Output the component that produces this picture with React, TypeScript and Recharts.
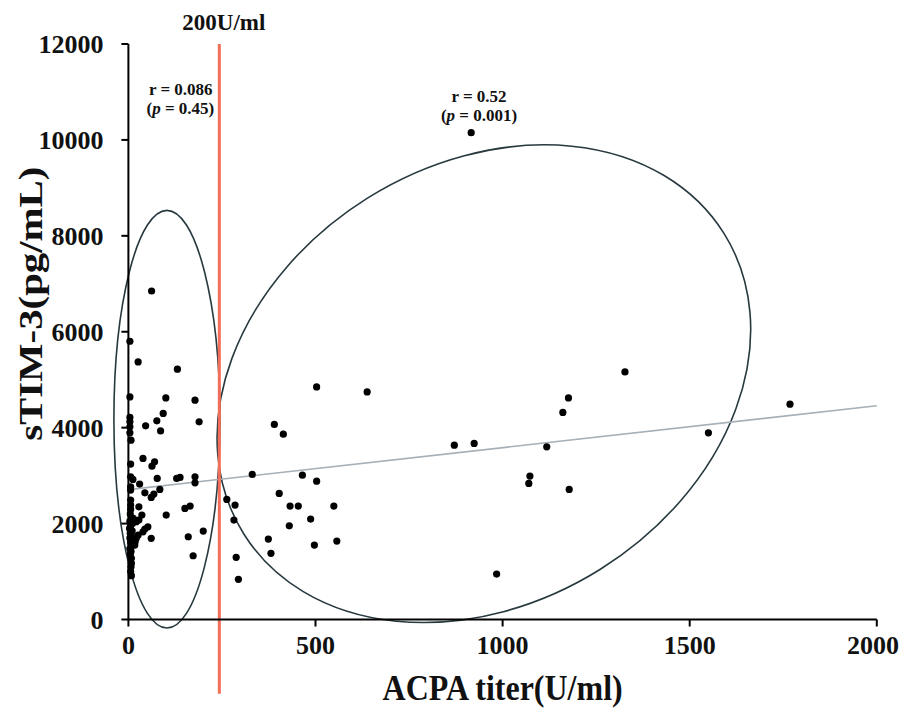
import React from 'react';
import { ScatterChart, Scatter, XAxis, YAxis, ReferenceLine, ReferenceDot } from 'recharts';

// ACPA titer (U/ml) of each patient
const acpaTiter = [
  4, 4, 4, 4, 4, 4, 7, 6, 6, 12, 6, 6, 6, 6, 6,
  5, 9, 4, 11, 6, 3, 10, 5, 8, 4, 12, 6, 9, 4, 7, 5, 8, 8, 7, 6, 8,
  26, 39, 70, 63, 77, 30, 44, 84, 68, 61, 28, 36, 28, 21, 101, 52, 44, 39, 26, 21, 18, 17, 61, 13,
  62, 131, 100, 178, 93, 76, 46, 86, 189, 129, 138, 178, 178, 151, 165, 200, 160, 173,
  263, 285, 282, 294, 288, 331, 390, 414, 403, 432, 454, 430, 374, 381, 465, 503, 503, 487, 497, 549, 557,
  638, 1176, 1161, 871, 924, 1118, 1073, 1070, 1178, 984, 1327, 1768, 1550, 916,
];
// sTIM-3 (pg/mL) of each patient
const sTim3 = [
  5802, 4642, 4213, 4121, 4017, 3892, 3740, 3240, 2975, 2921, 2767, 2698, 2490, 2385, 2296,
  2200, 2115, 2050, 2000, 1950, 1900, 1850, 1800, 1750, 1700, 1650, 1600, 1540, 1480, 1420, 1360, 1275, 1171, 1100, 1000, 913,
  5371, 3358, 3288, 3198, 2942, 2823, 2642, 2713, 2615, 2546, 2350, 2177, 2073, 2038, 2177, 1933, 1885, 1829, 1760, 1692, 1621, 1552, 1692, 2108,
  6850, 5219, 4621, 4573, 4296, 4142, 4038, 3933, 4121, 2942, 2963, 2975, 2850, 2317, 2365, 1844, 1725, 1329,
  2504, 2385, 2073, 838, 1296, 3025, 4067, 3865, 2629, 2365, 2365, 1954, 1677, 1379, 3010, 4850, 2885, 2094, 1552, 2365, 1635,
  4746, 4621, 4317, 3635, 3671, 3600, 2990, 2838, 2713, 948, 5163, 4490, 3892, 10150,
];

const xTicks = [0, 500, 1000, 1500, 2000];
const yTicks = [0, 2000, 4000, 6000, 8000, 10000, 12000];

// Overall regression line (x, y at both ends)
const regressionX = [0, 2000];
const regressionY = [2708, 4458];

// ACPA cut-off line
const cutoffX = 243;
const cutoffLabel = '200U/ml';

// Group ellipses: major-axis end points (data units) and minor/major ratio
const lowGroupEllipse = { from: { x: 103, y: -177 }, to: { x: 103, y: 8531 }, ratio: 0.254 };
const highGroupEllipse = { from: { x: 308, y: 1788 }, to: { x: 1592, y: 8046 }, ratio: 0.7735 };

// Correlation annotations
const lowGroupStats = ['r = 0.086', '0.45'];
const highGroupStats = ['r = 0.52', '0.001'];

const FONT = '"Liberation Serif", "Times New Roman", serif';

// annotation anchor positions (data units)
const annot = {
  cutoff: { x: 255, y: 12302 },
  lowR: { x: 140, y: 10927 },
  lowP: { x: 139, y: 10531 },
  highR: { x: 937, y: 10781 },
  highP: { x: 937, y: 10385 },
  cutoffBottom: -1550,
};

const ellipseShape = (ratio: number) => (props: any) => {
  const { x1, y1, x2, y2 } = props;
  const cx = (x1 + x2) / 2;
  const cy = (y1 + y2) / 2;
  const a = Math.hypot(x2 - x1, y2 - y1) / 2;
  const angle = (Math.atan2(y2 - y1, x2 - x1) * 180) / Math.PI;
  return (
    <ellipse
      cx={cx}
      cy={cy}
      rx={a}
      ry={a * ratio}
      transform={`rotate(${angle} ${cx} ${cy})`}
      fill="none"
      stroke="#27393f"
      strokeWidth={1.6}
    />
  );
};

const textLabel = (content: React.ReactNode, size: number) => (props: any) => {
  const vb = props.viewBox || {};
  return (
    <text
      x={vb.x}
      y={vb.y}
      textAnchor="middle"
      fontFamily={FONT}
      fontWeight={700}
      fontSize={size}
      fill="#111"
    >
      {content}
    </text>
  );
};

const pLine = (v: string) => (
  <>
    <tspan>(</tspan>
    <tspan fontStyle="italic">p</tspan>
    <tspan>{` = ${v})`}</tspan>
  </>
);

const XTitle = (props: any) => {
  const vb = props.viewBox;
  const x = vb.x + vb.width / 2;
  const y = vb.y + 80;
  return (
    <text
      transform={`translate(${x} ${y}) scale(1 1.12)`}
      x={0}
      y={0}
      textAnchor="middle"
      fontFamily={FONT}
      fontWeight={700}
      fontSize={32}
      fill="#111"
    >
      ACPA titer(U/ml)
    </text>
  );
};

const YTitle = (props: any) => {
  const vb = props.viewBox;
  const x = vb.x - 8;
  const y = vb.y + vb.height / 2 - 28;
  return (
    <text
      transform={`translate(${x} ${y}) rotate(-90) scale(1.2 1)`}
      x={0}
      y={0}
      textAnchor="middle"
      dominantBaseline="central"
      fontFamily={FONT}
      fontWeight={700}
      fontSize={34}
      fill="#111"
    >
      sTIM-3(pg/mL)
    </text>
  );
};

const Dot = (props: any) => <circle cx={props.cx} cy={props.cy} r={3.6} fill="#000" />;

export default function App() {
  const points = acpaTiter.map((x, i) => ({ x, y: sTim3[i] }));
  const tickStyle = { fill: '#111', fontSize: 26, fontWeight: 700, fontFamily: FONT };
  return (
    <ScatterChart
      width={891}
      height={704}
      margin={{ top: 36, right: 22.2, bottom: 42.5, left: 30.4 }}
    >
      <XAxis
        type="number"
        dataKey="x"
        domain={[0, 2000]}
        ticks={xTicks}
        tickCount={5}
        height={50}
        tick={tickStyle}
        tickSize={7}
        tickMargin={9}
        axisLine={{ stroke: '#000', strokeWidth: 2 }}
        tickLine={{ stroke: '#000', strokeWidth: 2 }}
        label={{ content: XTitle }}
      />
      <YAxis
        type="number"
        dataKey="y"
        domain={[0, 12000]}
        ticks={yTicks}
        tickCount={7}
        width={90}
        tick={tickStyle}
        tickSize={7}
        tickMargin={18}
        axisLine={{ stroke: '#000', strokeWidth: 2 }}
        tickLine={{ stroke: '#000', strokeWidth: 2 }}
        label={{ content: YTitle }}
      />
      <ReferenceLine
        segment={[lowGroupEllipse.from, lowGroupEllipse.to]}
        ifOverflow="visible"
        shape={ellipseShape(lowGroupEllipse.ratio)}
      />
      <ReferenceLine
        segment={[highGroupEllipse.from, highGroupEllipse.to]}
        ifOverflow="visible"
        shape={ellipseShape(highGroupEllipse.ratio)}
      />
      <ReferenceLine
        segment={[
          { x: regressionX[0], y: regressionY[0] },
          { x: regressionX[1], y: regressionY[1] },
        ]}
        ifOverflow="visible"
        stroke="#a7b0b6"
        strokeWidth={1.6}
      />
      <ReferenceLine
        segment={[
          { x: cutoffX, y: annot.cutoffBottom },
          { x: cutoffX, y: 12000 },
        ]}
        ifOverflow="visible"
        stroke="#f36e58"
        strokeWidth={3}
      />
      <Scatter data={points} fill="#000" shape={Dot} isAnimationActive={false} />
      <ReferenceDot x={annot.cutoff.x} y={annot.cutoff.y} r={0} ifOverflow="visible" fill="none" stroke="none" label={textLabel(cutoffLabel, 23)} />
      <ReferenceDot x={annot.lowR.x} y={annot.lowR.y} r={0} ifOverflow="visible" fill="none" stroke="none" label={textLabel(lowGroupStats[0], 17)} />
      <ReferenceDot x={annot.lowP.x} y={annot.lowP.y} r={0} ifOverflow="visible" fill="none" stroke="none" label={textLabel(pLine(lowGroupStats[1]), 17)} />
      <ReferenceDot x={annot.highR.x} y={annot.highR.y} r={0} ifOverflow="visible" fill="none" stroke="none" label={textLabel(highGroupStats[0], 17)} />
      <ReferenceDot x={annot.highP.x} y={annot.highP.y} r={0} ifOverflow="visible" fill="none" stroke="none" label={textLabel(pLine(highGroupStats[1]), 17)} />
    </ScatterChart>
  );
}
